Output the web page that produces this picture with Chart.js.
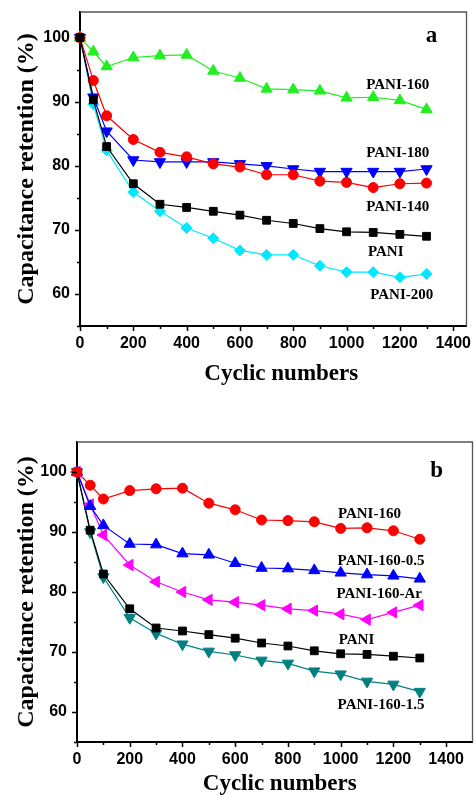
<!DOCTYPE html>
<html>
<head>
<meta charset="utf-8">
<script src="https://cdn.jsdelivr.net/npm/chart.js@4.4.1/dist/chart.umd.min.js"></script>
<style>
  html, body { margin: 0; padding: 0; background: #fff; overflow: hidden; }
  .panel { position: absolute; left: 0; }
  #boxA { top: 0; width: 474px; height: 395px; }
  #boxB { top: 400px; width: 480px; height: 395px; }
</style>
</head>
<body>
<div id="boxA" class="panel"><canvas id="chartA"></canvas></div>
<div id="boxB" class="panel"><canvas id="chartB"></canvas></div>
<script>
// cycle numbers, shared by both panels
const cycles = [0, 50, 100, 200, 300, 400, 500, 600, 700, 800, 900, 1000, 1100, 1200, 1300];

// capacitance retention (%)
const pani     = [100, 90.3, 83.0, 77.2, 74.0, 73.5, 72.9, 72.3, 71.5, 71.0, 70.2, 69.7, 69.6, 69.3, 69.0];
const pani140  = [100, 93.3, 87.8, 84.1, 82.1, 81.4, 80.3, 79.8, 78.6, 78.6, 77.6, 77.4, 76.6, 77.2, 77.3];
const pani160  = [100, 97.8, 95.5, 96.9, 97.2, 97.3, 94.8, 93.7, 92.0, 91.9, 91.7, 90.6, 90.7, 90.2, 88.8];
const pani180  = [100, 90.7, 85.4, 80.9, 80.6, 80.6, 80.6, 80.3, 80.0, 79.5, 79.1, 79.1, 79.1, 79.1, 79.5];
const pani200  = [100, 89.6, 82.4, 75.9, 72.9, 70.3, 68.7, 66.8, 66.1, 66.1, 64.4, 63.4, 63.4, 62.6, 63.1];
const pani160_05 = [100, 94.3, 91.1, 88.0, 87.9, 86.4, 86.2, 84.8, 84.0, 83.9, 83.6, 83.2, 82.9, 82.7, 82.2];
const pani160_Ar = [100, 94.6, 89.5, 84.5, 81.7, 80.0, 78.7, 78.3, 77.8, 77.2, 76.9, 76.3, 75.4, 76.6, 77.8];
const pani160_15 = [100, 90.0, 82.5, 75.7, 73.1, 71.3, 70.1, 69.5, 68.6, 68.1, 66.8, 66.3, 65.1, 64.6, 63.4];

// axis ticks
const xMajor = [0, 200, 400, 600, 800, 1000, 1200, 1400];
const xMinor = [100, 300, 500, 700, 900, 1100, 1300];
const yMajor = [60, 70, 80, 90, 100];
const yMinor = [55, 65, 75, 85, 95];

const serif = "'Liberation Serif', 'Times New Roman', serif";
const sans = "'Liberation Sans', Arial, sans-serif";

/**
 * Build one line dataset.
 */
const series = function (label, values, color, style, radius, rotation) {
  return {
    label: label,
    data: cycles.map((c, i) => ({x: c, y: values[i]})),
    borderColor: color,
    backgroundColor: color,
    borderWidth: 1.2,
    pointStyle: style,
    pointRadius: radius,
    pointRotation: rotation || 0,
    pointBorderWidth: 1,
    clip: false,
  };
}

/**
 * Frame, minor ticks, axis titles and curve names.
 */
const paperPlugin = {
  id: 'paper',
  afterDraw(chart, args, opts) {
    const {ctx, chartArea: a} = chart;
    const x = chart.scales.x, y = chart.scales.y;
    ctx.save();

    // top and right frame
    ctx.strokeStyle = '#555';
    ctx.lineWidth = 1.3;
    ctx.beginPath();
    ctx.moveTo(a.left, a.top);
    ctx.lineTo(a.right, a.top);
    ctx.lineTo(a.right, a.bottom);
    ctx.stroke();

    // outward ticks
    ctx.strokeStyle = '#000';
    ctx.lineWidth = 1.5;
    ctx.beginPath();
    xMajor.concat(xMinor).forEach(v => {
      const px = Math.round(x.getPixelForValue(v)) + 0.5;
      const len = xMajor.includes(v) ? 5 : 3;
      ctx.moveTo(px, a.bottom);
      ctx.lineTo(px, a.bottom + len);
    });
    yMajor.concat(yMinor).forEach(v => {
      const py = Math.round(y.getPixelForValue(v)) + 0.5;
      const len = yMajor.includes(v) ? 5 : 3;
      ctx.moveTo(a.left, py);
      ctx.lineTo(a.left - len, py);
    });
    ctx.stroke();

    // axis titles
    ctx.fillStyle = '#000';
    ctx.textAlign = 'center';
    ctx.textBaseline = 'alphabetic';
    ctx.font = 'bold 23px ' + serif;
    ctx.fillText('Cyclic numbers', x.getPixelForValue(opts.xTitleAt), a.bottom + opts.xTitleGap);
    ctx.save();
    ctx.translate(33, (a.top + a.bottom) / 2);
    ctx.rotate(-Math.PI / 2);
    ctx.font = 'bold 24px ' + serif;
    ctx.fillText('Capacitance retention (%)', 0, 0);
    ctx.restore();

    // curve names and panel letter
    ctx.textBaseline = 'middle';
    opts.notes.forEach(n => {
      ctx.font = 'bold ' + n.size + 'px ' + serif;
      ctx.fillText(n.text, x.getPixelForValue(n.x), y.getPixelForValue(n.y));
    });
    ctx.restore();
  }
};

/**
 * Shared options for both panels.
 */
const makeOptions = function (xMax, yMax, yWidth, xHeight, padding, paper) {
  return {
    responsive: true,
    maintainAspectRatio: false,
    animation: false,
    layout: {padding: padding},
    plugins: {
      legend: {display: false},
      tooltip: {enabled: false},
      paper: paper,
    },
    scales: {
      x: {
        type: 'linear',
        min: 0,
        max: xMax,
        grid: {display: false},
        border: {display: true, color: '#000', width: 2},
        afterBuildTicks: s => { s.ticks = xMajor.map(v => ({value: v})); },
        afterFit: s => { s.height = xHeight; },
        ticks: {
          color: '#000',
          padding: 0,
          maxRotation: 0,
          autoSkip: false,
          font: {family: sans, weight: 'bold', size: 16},
          callback: v => String(v),
        },
      },
      y: {
        type: 'linear',
        min: 55,
        max: yMax,
        grid: {display: false},
        border: {display: true, color: '#000', width: 2},
        afterBuildTicks: s => { s.ticks = yMajor.map(v => ({value: v})); },
        afterFit: s => { s.width = yWidth; },
        ticks: {
          color: '#000',
          padding: 2,
          font: {family: sans, weight: 'bold', size: 16},
          callback: v => String(v),
        },
      },
    },
  };
}

// panel a
let chartA = new Chart(document.getElementById('chartA'), {
  type: 'line',
  data: {
    datasets: [
      series('PANI', pani, '#000000', 'rect', 5.5),
      series('PANI-140', pani140, '#ff0000', 'circle', 5),
      series('PANI-180', pani180, '#0000ff', 'triangle', 6.5, 180),
      series('PANI-200', pani200, '#00e8ff', 'rectRot', 5.5),
      series('PANI-160', pani160, '#22ee22', 'triangle', 6.5),
    ],
  },
  options: makeOptions(1450, 104, 80, 69, {top: 12, right: 7, left: 0, bottom: 0}, {
    xTitleAt: 755,
    xTitleGap: 54,
    notes: [
      {text: 'PANI-160', x: 1192, y: 92.6, size: 15},
      {text: 'PANI-180', x: 1192, y: 81.9, size: 15},
      {text: 'PANI-140', x: 1192, y: 73.6, size: 15},
      {text: 'PANI', x: 1147, y: 66.5, size: 15},
      {text: 'PANI-200', x: 1207, y: 59.8, size: 15},
      {text: 'a', x: 1319, y: 100.3, size: 23},
    ],
  }),
  plugins: [paperPlugin],
});

// panel b
let chartB = new Chart(document.getElementById('chartB'), {
  type: 'line',
  data: {
    datasets: [
      series('PANI-160', pani160, '#ff0000', 'circle', 5),
      series('PANI-160-0.5', pani160_05, '#0000ff', 'triangle', 6.5),
      series('PANI-160-Ar', pani160_Ar, '#ff00ff', 'triangle', 6.5, 270),
      series('PANI', pani, '#000000', 'rect', 5.5),
      series('PANI-160-1.5', pani160_15, '#008080', 'triangle', 6.5, 180),
    ],
  },
  options: makeOptions(1500, 105, 77, 53, {top: 42, right: 1, left: 0, bottom: 0}, {
    xTitleAt: 769,
    xTitleGap: 48,
    notes: [
      {text: 'PANI-160', x: 1109, y: 93.0, size: 15},
      {text: 'PANI-160-0.5', x: 1153, y: 85.1, size: 15},
      {text: 'PANI-160-Ar', x: 1146, y: 79.6, size: 15},
      {text: 'PANI', x: 1060, y: 72.0, size: 15},
      {text: 'PANI-160-1.5', x: 1153, y: 61.1, size: 15},
      {text: 'b', x: 1364, y: 100.2, size: 23},
    ],
  }),
  plugins: [paperPlugin],
});
</script>
</body>
</html>
